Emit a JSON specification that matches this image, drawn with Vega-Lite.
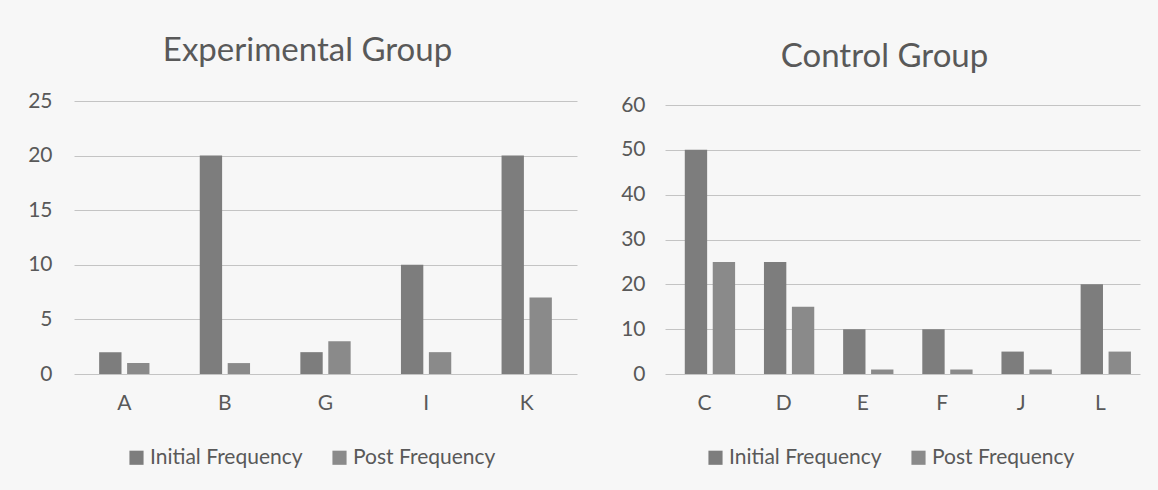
{
  "$schema": "https://vega.github.io/schema/vega-lite/v6.json",
  "background": "#f7f7f7",
  "padding": {"left": 27, "top": 35, "right": 18, "bottom": 25},
  "datasets": {
    "experimental": [
      {"category": "A", "series": "Initial Frequency", "value": 2},
      {"category": "A", "series": "Post Frequency", "value": 1},
      {"category": "B", "series": "Initial Frequency", "value": 20},
      {"category": "B", "series": "Post Frequency", "value": 1},
      {"category": "G", "series": "Initial Frequency", "value": 2},
      {"category": "G", "series": "Post Frequency", "value": 3},
      {"category": "I", "series": "Initial Frequency", "value": 10},
      {"category": "I", "series": "Post Frequency", "value": 2},
      {"category": "K", "series": "Initial Frequency", "value": 20},
      {"category": "K", "series": "Post Frequency", "value": 7}
    ],
    "control": [
      {"category": "C", "series": "Initial Frequency", "value": 50},
      {"category": "C", "series": "Post Frequency", "value": 25},
      {"category": "D", "series": "Initial Frequency", "value": 25},
      {"category": "D", "series": "Post Frequency", "value": 15},
      {"category": "E", "series": "Initial Frequency", "value": 10},
      {"category": "E", "series": "Post Frequency", "value": 1},
      {"category": "F", "series": "Initial Frequency", "value": 10},
      {"category": "F", "series": "Post Frequency", "value": 1},
      {"category": "J", "series": "Initial Frequency", "value": 5},
      {"category": "J", "series": "Post Frequency", "value": 1},
      {"category": "L", "series": "Initial Frequency", "value": 20},
      {"category": "L", "series": "Post Frequency", "value": 5}
    ]
  },
  "spacing": 43,
  "resolve": {"scale": {"color": "independent"}, "legend": {"color": "independent"}},
  "hconcat": [
    {
      "title": {"text": "Experimental Group", "offset": 22, "dx": -18},
      "width": 503,
      "height": 273,
      "data": {"name": "experimental"},
      "mark": {"type": "bar"},
      "encoding": {
        "x": {
          "field": "category", "type": "nominal", "sort": ["A", "B", "G", "I", "K"],
          "scale": {"paddingInner": 0.5, "paddingOuter": 0.25},
          "axis": {"title": null, "labelAngle": 0, "grid": false, "labelPadding": 18}
        },
        "xOffset": {
          "field": "series", "type": "nominal", "sort": ["Initial Frequency", "Post Frequency"],
          "scale": {"paddingInner": 0.2, "paddingOuter": 0}
        },
        "y": {
          "field": "value", "type": "quantitative",
          "scale": {"domain": [0, 25], "nice": false},
          "axis": {"title": null, "values": [0, 5, 10, 15, 20, 25], "grid": true, "labelPadding": 22}
        },
        "color": {
          "field": "series", "type": "nominal", "sort": ["Initial Frequency", "Post Frequency"],
          "scale": {"range": ["#7d7d7d", "#8a8a8a"]},
          "legend": {"title": null, "orient": "none", "direction": "horizontal", "legendX": 52, "legendY": 346}
        }
      }
    },
    {
      "title": {"text": "Control Group", "offset": 20, "dx": -18},
      "width": 475,
      "height": 273,
      "data": {"name": "control"},
      "mark": {"type": "bar"},
      "encoding": {
        "x": {
          "field": "category", "type": "nominal", "sort": ["C", "D", "E", "F", "J", "L"],
          "scale": {"paddingInner": 0.5, "paddingOuter": 0.25},
          "axis": {"title": null, "labelAngle": 0, "grid": false, "labelPadding": 18}
        },
        "xOffset": {
          "field": "series", "type": "nominal", "sort": ["Initial Frequency", "Post Frequency"],
          "scale": {"paddingInner": 0.25, "paddingOuter": 0}
        },
        "y": {
          "field": "value", "type": "quantitative",
          "scale": {"domain": [0, 60.9], "nice": false},
          "axis": {"title": null, "values": [0, 10, 20, 30, 40, 50, 60], "grid": true, "labelPadding": 20}
        },
        "color": {
          "field": "series", "type": "nominal", "sort": ["Initial Frequency", "Post Frequency"],
          "scale": {"range": ["#7d7d7d", "#8a8a8a"]},
          "legend": {"title": null, "orient": "none", "direction": "horizontal", "legendX": 40, "legendY": 346}
        }
      }
    }
  ],
  "config": {
    "view": {"stroke": null},
    "font": "Lato",
    "title": {"font": "Lato", "fontSize": 33, "fontWeight": "normal", "color": "#595959", "anchor": "middle"},
    "axis": {
      "labelFont": "Lato", "labelFontSize": 21, "labelColor": "#595959",
      "domain": false, "ticks": false, "gridColor": "#c4c4c4", "gridWidth": 1
    },
    "legend": {
      "labelFont": "Lato", "labelFontSize": 21, "labelColor": "#595959",
      "symbolType": "square", "symbolSize": 200, "symbolStrokeWidth": 0,
      "labelOffset": 3, "columnPadding": 26, "padding": 0
    }
  }
}
